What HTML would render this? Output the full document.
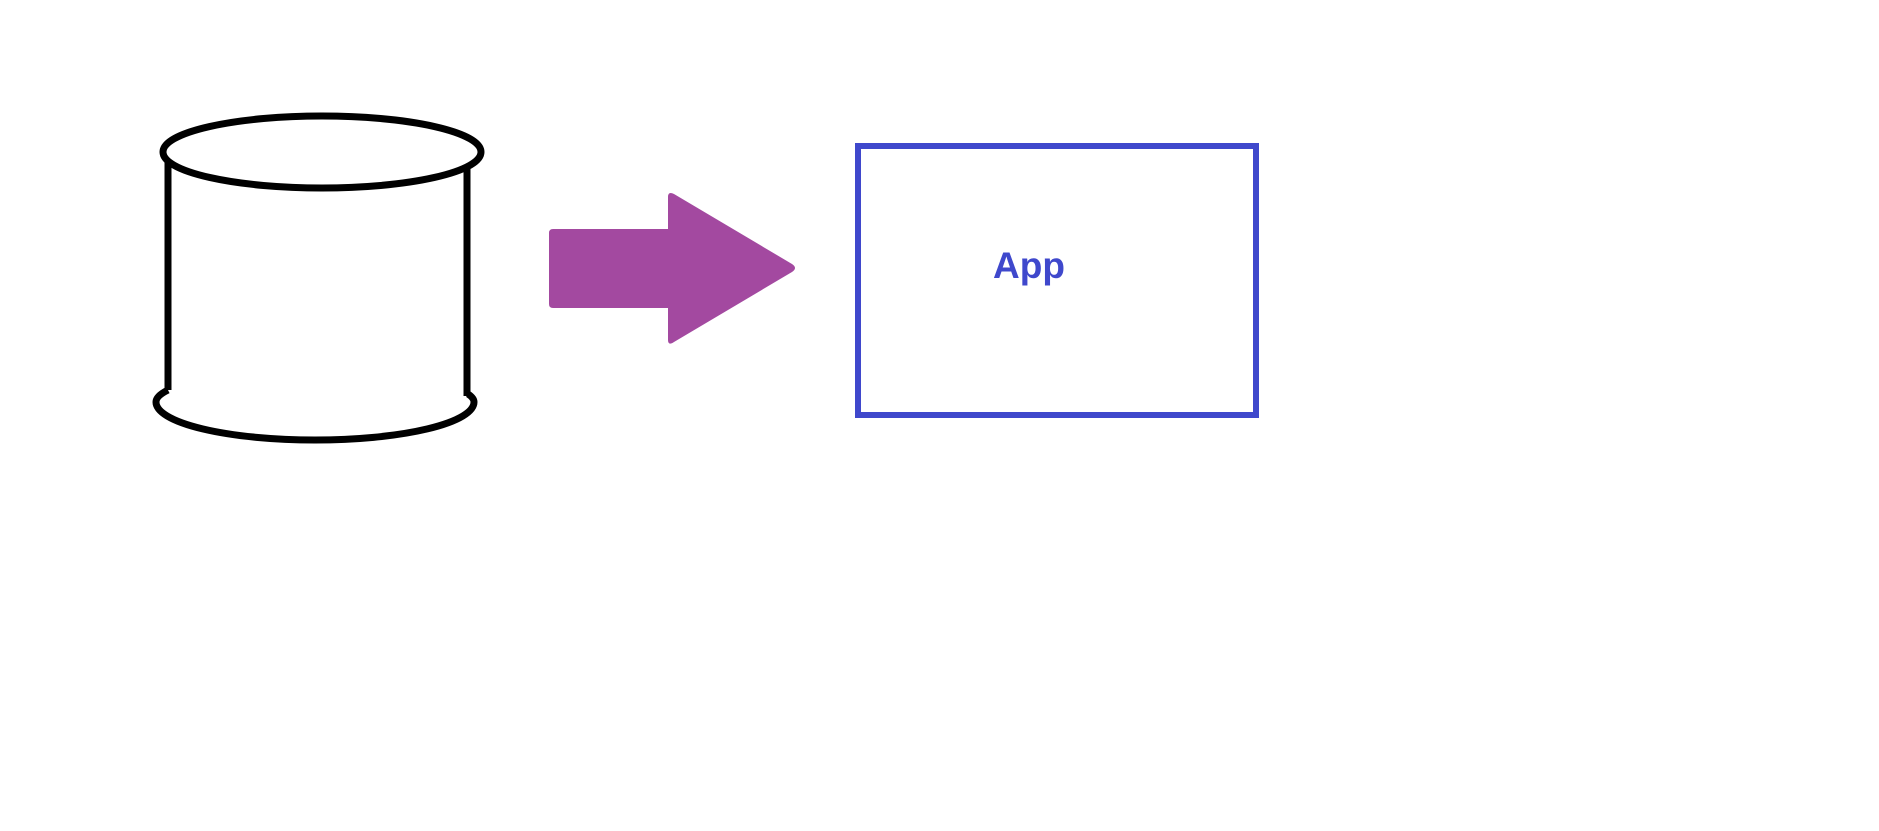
<!DOCTYPE html>
<html><head><style>html,body{margin:0;padding:0;background:#fff;}</style></head>
<body>
<svg width="1879" height="826" viewBox="0 0 1879 826" xmlns="http://www.w3.org/2000/svg">
<rect width="1879" height="826" fill="#fff"/>
<g fill="none" stroke="#000" stroke-width="7">
<line x1="168" y1="162" x2="168" y2="390"/>
<line x1="467" y1="165" x2="467" y2="396"/>
<ellipse cx="322" cy="152" rx="159" ry="36"/>
<path d="M168 390 Q156 396 156 402 A159 38 0 0 0 474 402 Q474 398 468 394"/>
</g>
<path d="M553 229 L668 229 L668 197 Q668 191 674 194 L792 264 Q798 268 792 272 L674 342 Q668 346 668 340 L668 308 L553 308 Q549 308 549 304 L549 233 Q549 229 553 229 Z" fill="#a349a0"/>
<rect x="858" y="146" width="398" height="269" fill="none" stroke="#3f48cc" stroke-width="6"/>
<text x="1029" y="278" style="font-family:'Liberation Sans',Arial,sans-serif;font-weight:bold;font-size:37px" fill="#3f48cc" text-anchor="middle">App</text>
</svg>
</body></html>
